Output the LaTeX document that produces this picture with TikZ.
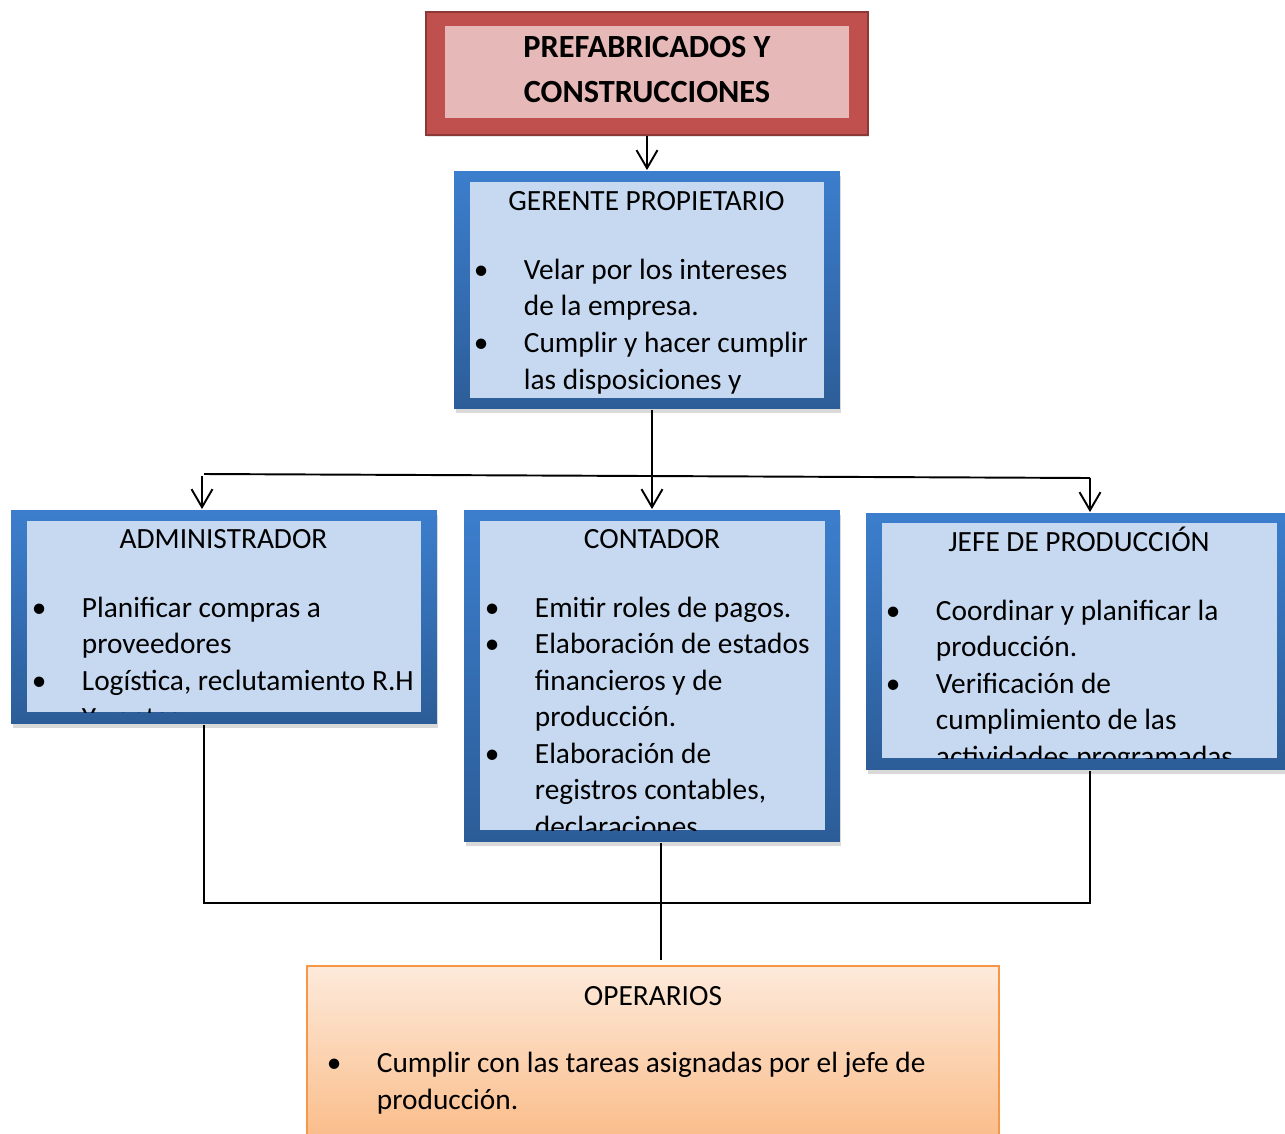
\documentclass[tikz,border=0pt]{standalone}
\usepackage{fontspec}
\setmainfont{Carlito}
\usetikzlibrary{arrows.meta,shadows}

\definecolor{azulsup}{HTML}{3C7ECD}
\definecolor{azulinf}{HTML}{2C5D98}
\definecolor{celeste}{HTML}{C6D9F1}
\definecolor{rojo}{HTML}{C0504D}
\definecolor{rojoosc}{HTML}{8C3836}
\definecolor{rosa}{HTML}{E6B8B7}
\definecolor{naranja}{HTML}{F79646}
\definecolor{durazno}{HTML}{FDEADB}
\definecolor{melocoton}{HTML}{FAB780}

\newcommand{\vineta}{\llap{\makebox[1.0cm][l]{•}}}

\tikzset{
  caja/.style={rectangle, inner sep=0pt, top color=azulsup, bottom color=azulinf,
    drop shadow={shadow xshift=0.03cm, shadow yshift=-0.09cm, opacity=0.3}},
  fondo/.style={rectangle, inner sep=0pt, fill=celeste},
  titulo/.style={inner sep=0pt, anchor=base, font=\fontsize{16.7}{20.8}\selectfont},
  lista/.style={inner sep=0pt, anchor=base west, align=left, font=\fontsize{16.7}{20.8}\selectfont},
}

\begin{document}
\begin{tikzpicture}[x=0.02cm, y=-0.02cm, line width=1.1pt,
  >={Straight Barb[length=0.36cm, width=0.42cm]}]
  \useasboundingbox (0,0) rectangle (1285,1133);

  % empresa (base = ultima linea)
  \node[rectangle, inner sep=0pt, fill=rojo, draw=rojoosc, line width=1.6pt,
    drop shadow={shadow xshift=0.02cm, shadow yshift=-0.04cm, opacity=0.2},
    minimum width=8.84cm, minimum height=2.46cm] (empresa) at (647,73.5) {};
  \node[rectangle, inner sep=0pt, fill=rosa, minimum width=8.08cm, minimum height=1.84cm] (empresa-in) at (647,72) {};
  \node[inner sep=0pt, anchor=base, align=center, font=\fontsize{18.4}{25.6}\selectfont\bfseries]
    (empresa-txt) at (647,102) {PREFABRICADOS Y\\CONSTRUCCIONES};

  % gerente
  \node[caja, minimum width=7.72cm, minimum height=4.76cm] (gerente) at (647,290) {};
  \node[fondo, minimum width=7.08cm, minimum height=4.32cm] (gerente-in) at (647,290) {};
  \begin{scope}
    \clip (gerente-in.south west) rectangle (gerente-in.north east);
    \node[titulo] (gerente-tit) at (646.5,210) {GERENTE PROPIETARIO};
    \node[lista] (gerente-txt) at (523,389) {\vineta Velar por los intereses\\de la empresa.\\
      \vineta Cumplir y hacer cumplir\\las disposiciones y};
  \end{scope}

  % administrador
  \node[caja, minimum width=8.52cm, minimum height=4.28cm] (admin) at (224,617) {};
  \node[fondo, minimum width=7.88cm, minimum height=3.82cm] (admin-in) at (224,616.5) {};
  \begin{scope}
    \clip (admin-in.south west) rectangle (admin-in.north east);
    \node[titulo] (admin-tit) at (223.5,548) {ADMINISTRADOR};
    \node[lista] (admin-txt) at (81,727) {\vineta Planificar compras a\\proveedores\\
      \vineta Logística, reclutamiento R.H\\Y ventas};
  \end{scope}

  % contador
  \node[caja, minimum width=7.52cm, minimum height=6.64cm] (contador) at (652,676) {};
  \node[fondo, minimum width=6.9cm, minimum height=6.18cm] (contador-in) at (652.5,675.5) {};
  \begin{scope}
    \clip (contador-in.south west) rectangle (contador-in.north east);
    \node[titulo] (contador-tit) at (652,548) {CONTADOR};
    \node[lista] (contador-txt) at (534,836.5) {\vineta Emitir roles de pagos.\\
      \vineta Elaboración de estados\\financieros y de\\producción.\\
      \vineta Elaboración de\\registros contables,\\declaraciones};
  \end{scope}

  % jefe de produccion
  \node[caja, minimum width=8.52cm, minimum height=5.14cm] (jefe) at (1079,641.5) {};
  \node[fondo, minimum width=7.9cm, minimum height=4.7cm] (jefe-in) at (1079.5,640.5) {};
  \begin{scope}
    \clip (jefe-in.south west) rectangle (jefe-in.north east);
    \node[titulo] (jefe-tit) at (1079,551) {JEFE DE PRODUCCIÓN};
    \node[lista] (jefe-txt) at (935,766.5) {\vineta Coordinar y planificar la\\producción.\\
      \vineta Verificación de\\cumplimiento de las\\actividades programadas};
  \end{scope}

  % operarios
  \node[rectangle, inner sep=0pt, top color=durazno, bottom color=melocoton, draw=naranja, line width=1.2pt,
    minimum width=13.84cm, minimum height=3.88cm] (operarios) at (653,1063) {};
  \node[titulo] (operarios-tit) at (653,1005) {OPERARIOS};
  \node[lista] (operarios-txt) at (376,1109.5) {\vineta Cumplir con las tareas asignadas por el jefe de\\producción.};

  % conectores
  \coordinate (rama-izq) at (204,474);
  \coordinate (rama-der) at (1090,478);
  \coordinate (base-izq) at (204,903);
  \coordinate (base-der) at (1090,903);
  \coordinate (op-top) at (661,960);

  \draw[->] (empresa.south) -- (gerente.north);
  \draw[->] (gerente.south -| contador.north) -- (contador.north);
  \draw (rama-izq) -- (rama-der);
  \draw[->] (rama-der) -- (rama-der |- jefe.north);
  \draw[->] ([xshift=-0.04cm]rama-izq) ++(0,2) -- ([xshift=-0.04cm]rama-izq |- admin.north);
  \draw (base-izq |- admin.south) -- (base-izq) -- (base-der) -- (base-der |- jefe.south);
  \draw (op-top |- contador.south) -- (op-top);
\end{tikzpicture}
\end{document}
